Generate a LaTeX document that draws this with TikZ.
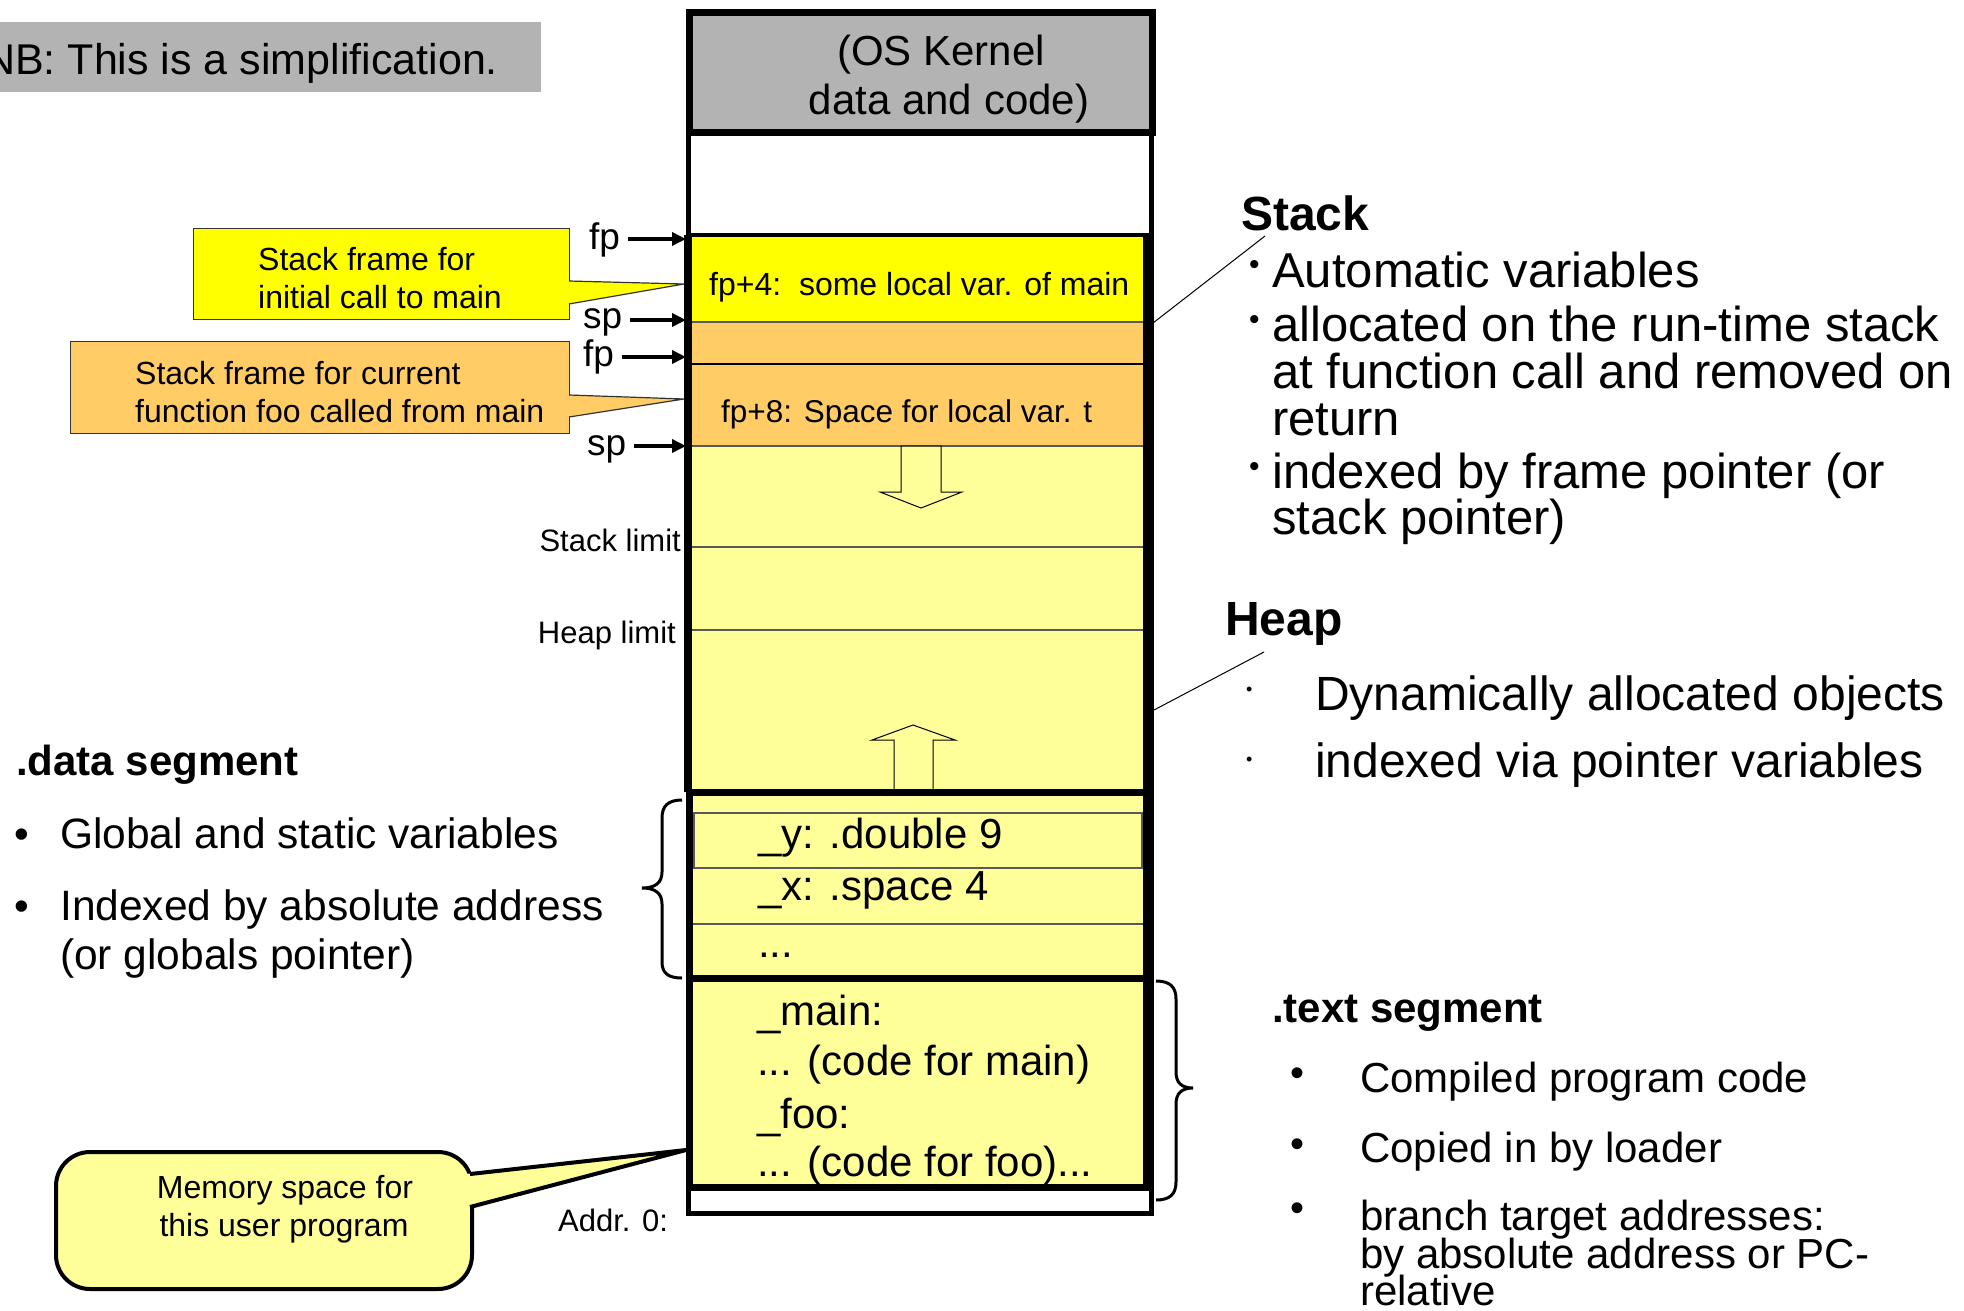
\documentclass[tikz,border=0pt]{standalone}
\usepackage{fontspec}
\setmainfont{Liberation Sans}
\usetikzlibrary{arrows.meta}
\definecolor{kgray}{HTML}{B3B3B3}
\definecolor{syel}{HTML}{FFFF00}
\definecolor{sorg}{HTML}{FFCC66}
\definecolor{lyel}{HTML}{FFFF99}
\newcommand{\fsz}[1]{\fontsize{#1}{#1}\selectfont}
\begin{document}
\begin{tikzpicture}[x=1pt,y=-1pt,
  lbl/.style={inner sep=0pt, anchor=base west},
  lble/.style={inner sep=0pt, anchor=base east},
  lblc/.style={inner sep=0pt, anchor=base},
  ptr/.style={line width=3.5pt, -{Triangle[length=14pt,width=13pt]}, shorten <=8pt},
  sepline/.style={line width=1.2pt, black!65},
  blockarrow/.style={line width=1pt, fill=lyel},
  brace/.style={line width=3pt},
  callout/.style={draw=black!80, line width=1.2pt, inner sep=0pt, anchor=north west},
  bul/.style={inner sep=0pt, anchor=base west}
]
\useasboundingbox (0,0) rectangle (1964,1310);

% NB box
\fill[kgray] (0,22) rectangle (541,92);
\node[lbl,font=\fsz{43}] (nb) at (-16,74) {NB: This is a simplification.};

% ---------- memory column ----------
\fill[white] (688,132) rectangle (1151,1214);
\fill[syel] (690,235) rectangle (1148,322);
\fill[sorg] (690,322) rectangle (1148,446);
\fill[lyel] (690,446) rectangle (1148,1188);

\draw[sepline] (690,322) -- (1146,322);
\draw[line width=1.5pt] (690,364) -- (1146,364);
\draw[sepline] (690,446) -- (1146,446);
\draw[sepline] (690,547) -- (1146,547);
\draw[sepline] (690,630) -- (1146,630);

% growth arrows
\draw[blockarrow] (901,446) -- (941,446) -- (941,492) -- (962,492) -- (921,508) -- (880,492) -- (901,492) -- cycle;
\draw[blockarrow] (894,790) -- (894,740) -- (872,740) -- (913,725) -- (955,740) -- (933,740) -- (933,790) -- cycle;

% data segment rows
\draw[sepline] (694,813) rectangle (1142,868);
\draw[sepline] (692,924) -- (1144,924);

% outlines
\draw[line width=5pt] (688,132) -- (688,1213) -- (1151,1213) -- (1151,132);
\draw[line width=4.5pt] (688,235) -- (1151,235);
\draw[line width=10pt] (1148,233) -- (1148,1190);
\draw[line width=8pt] (688,235) -- (688,792);
\draw[line width=7pt] (689,792) rectangle (1148,978.5);
\draw[line width=7pt] (689,978.5) rectangle (1148,1187.5);
\draw[line width=7pt, fill=kgray] (689,12) rectangle (1152,132);

% column texts
\node[lblc,font=\fsz{42}] (os1) at (941,65) {(OS Kernel};
\node[lblc,font=\fsz{42}] (os2) at (949,114) {data and code)};
\node[lbl,font=\fsz{32}] (loc4) at (709,295) {fp+4:\ \ some local var. of main};
\node[lbl,font=\fsz{31.5}] (loc8) at (721,422) {fp+8: Space for local var. t};
\node[lbl,font=\fsz{42}] (dy) at (758,848) {\_y: .double 9};
\node[lbl,font=\fsz{42}] (dx) at (758,900) {\_x: .space 4};
\node[lbl,font=\fsz{42}] (ddots) at (758,957) {...};
\node[lbl,font=\fsz{42}] (tmain) at (757,1025) {\_main:};
\node[lbl,font=\fsz{42}] (tcmain) at (757,1075) {... (code for main)};
\node[lbl,font=\fsz{42}] (tfoo) at (757,1128) {\_foo:};
\node[lbl,font=\fsz{42}] (tcfoo) at (757,1176) {... (code for foo)...};

% limit labels
\node[lble,font=\fsz{31}] (slim) at (681,551) {Stack limit};
\node[lble,font=\fsz{31}] (hlim) at (676,643) {Heap limit};
\node[lbl,font=\fsz{31}] (addr) at (558,1231) {Addr. 0:};

% fp / sp pointers
\node[lbl,font=\fsz{37}] (fp1) at (589,249) {fp};
\node[lbl,font=\fsz{37}] (sp1) at (583,328) {sp};
\node[lbl,font=\fsz{37}] (fp2) at (583,366) {fp};
\node[lbl,font=\fsz{37}] (sp2) at (587,455) {sp};
\coordinate (fp1t) at (686,239);
\coordinate (sp1t) at (686,320);
\coordinate (fp2t) at (686,357);
\coordinate (sp2t) at (686,446);
\draw[ptr] (fp1.east |- fp1t) -- (fp1t);
\draw[ptr] (sp1.east |- sp1t) -- (sp1t);
\draw[ptr] (fp2.east |- fp2t) -- (fp2t);
\draw[ptr] (sp2.east |- sp2t) -- (sp2t);

% stack frame callouts
\node[callout, fill=syel, minimum width=376pt, minimum height=91pt] (cf1) at (193,228) {};
\coordinate (cf1a) at (569,281);
\coordinate (cf1b) at (569,304);
\coordinate (cf1t) at (684,284);
\fill[syel] ([xshift=-2pt]cf1a) -- (cf1t) -- ([xshift=-2pt]cf1b) -- cycle;
\draw[draw=black!80, line width=1.2pt] (cf1a) -- (cf1t) -- (cf1b);
\node[lbl,font=\fsz{32}] (cf1l1) at (258,270) {Stack frame for};
\node[lbl,font=\fsz{32}] (cf1l2) at (258,308) {initial call to main};

\node[callout, fill=sorg, minimum width=499pt, minimum height=92pt] (cf2) at (70,341) {};
\coordinate (cf2a) at (569,395);
\coordinate (cf2b) at (569,417);
\coordinate (cf2t) at (684,399);
\fill[sorg] ([xshift=-2pt]cf2a) -- (cf2t) -- ([xshift=-2pt]cf2b) -- cycle;
\draw[draw=black!80, line width=1.2pt] (cf2a) -- (cf2t) -- (cf2b);
\node[lbl,font=\fsz{32}] (cf2l1) at (135,384) {Stack frame for current};
\node[lbl,font=\fsz{32}] (cf2l2) at (135,422) {function foo called from main};

% memory callout
\node[draw, line width=4pt, fill=lyel, rounded corners=34pt, inner sep=0pt, minimum width=416pt, minimum height=137pt, anchor=north west] (mem) at (54,1150) {};
\coordinate (mema) at (470,1174);
\coordinate (memb) at (470,1207);
\coordinate (memt) at (686,1150);
\fill[lyel] ([xshift=-4pt]mema) -- (memt) -- ([xshift=-4pt]memb) -- cycle;
\draw[line width=4pt] (mema) -- (memt) -- (memb);
\node[lblc,font=\fsz{32}] (mem1) at (285,1198) {Memory space for};
\node[lblc,font=\fsz{32}] (mem2) at (284,1236) {this user program};

% braces
\draw[brace] (682,800) .. controls (668,800) and (662,806) .. (662,818) -- (662,872) .. controls (662,883) and (655,888) .. (642,888) .. controls (655,888) and (662,893) .. (662,904) -- (662,962) .. controls (662,973) and (668,978) .. (682,978);
\draw[brace] (1156,981) .. controls (1170,981) and (1176,987) .. (1176,999) -- (1176,1072) .. controls (1176,1083) and (1182,1088) .. (1193,1088) .. controls (1182,1088) and (1176,1093) .. (1176,1104) -- (1176,1182) .. controls (1176,1194) and (1170,1200) .. (1156,1200);

% .data segment text
\node[lbl,font=\bfseries\fsz{42}] (dseg) at (16,775) {.data segment};
\node[bul,font=\fsz{42}] (db1) at (14,848) {•};
\node[lbl,font=\fsz{42.5}] (dl1) at (60,848) {Global and static variables};
\node[bul,font=\fsz{42}] (db2) at (14,920) {•};
\node[lbl,font=\fsz{42.5}] (dl2) at (60,920) {Indexed by absolute address};
\node[lbl,font=\fsz{42.5}] (dl3) at (60,969) {(or globals pointer)};

% Stack text
\node[lbl,font=\bfseries\fsz{48}] (stk) at (1241,230) {Stack};
\node[bul,font=\fsz{30}] (sb1) at (1249,274) {•};
\node[lbl,font=\fsz{49}] (sl1) at (1272,287) {Automatic variables};
\node[bul,font=\fsz{30}] (sb2) at (1249,329) {•};
\node[lbl,font=\fsz{49}] (sl2) at (1272,341) {allocated on the run-time stack};
\node[lbl,font=\fsz{49}] (sl3) at (1272,388) {at function call and removed on};
\node[lbl,font=\fsz{49}] (sl4) at (1272,435) {return};
\node[bul,font=\fsz{30}] (sb3) at (1249,476) {•};
\node[lbl,font=\fsz{49}] (sl5) at (1272,488) {indexed by frame pointer (or};
\node[lbl,font=\fsz{49}] (sl6) at (1272,534) {stack pointer)};
\coordinate (stkfrom) at (1153,323);
\coordinate (stkto) at (1265,236);
\draw[line width=1pt] (stkfrom) -- (stkto);

% Heap text
\node[lbl,font=\bfseries\fsz{48}] (hp) at (1225,635) {Heap};
\node[bul,font=\fsz{18}] (hb1) at (1246,695) {•};
\node[lbl,font=\fsz{48}] (hl1) at (1315,710) {Dynamically allocated objects};
\node[bul,font=\fsz{18}] (hb2) at (1246,765) {•};
\node[lbl,font=\fsz{48}] (hl2) at (1315,777) {indexed via pointer variables};
\coordinate (hpfrom) at (1154,710);
\coordinate (hpto) at (1264,652);
\draw[line width=1pt] (hpfrom) -- (hpto);

% .text segment text
\node[lbl,font=\bfseries\fsz{42}] (tseg) at (1272,1022) {.text segment};
\node[bul,font=\fsz{40}] (tb1) at (1290,1086) {•};
\node[lbl,font=\fsz{42}] (tl1) at (1360,1092) {Compiled program code};
\node[bul,font=\fsz{40}] (tb2) at (1290,1157) {•};
\node[lbl,font=\fsz{42}] (tl2) at (1360,1162) {Copied in by loader};
\node[bul,font=\fsz{40}] (tb3) at (1290,1221) {•};
\node[lbl,font=\fsz{42}] (tl3) at (1360,1230) {branch target addresses:};
\node[lbl,font=\fsz{42}] (tl4) at (1360,1268) {by absolute address or PC-};
\node[lbl,font=\fsz{42}] (tl5) at (1360,1305) {relative};
\end{tikzpicture}
\end{document}
